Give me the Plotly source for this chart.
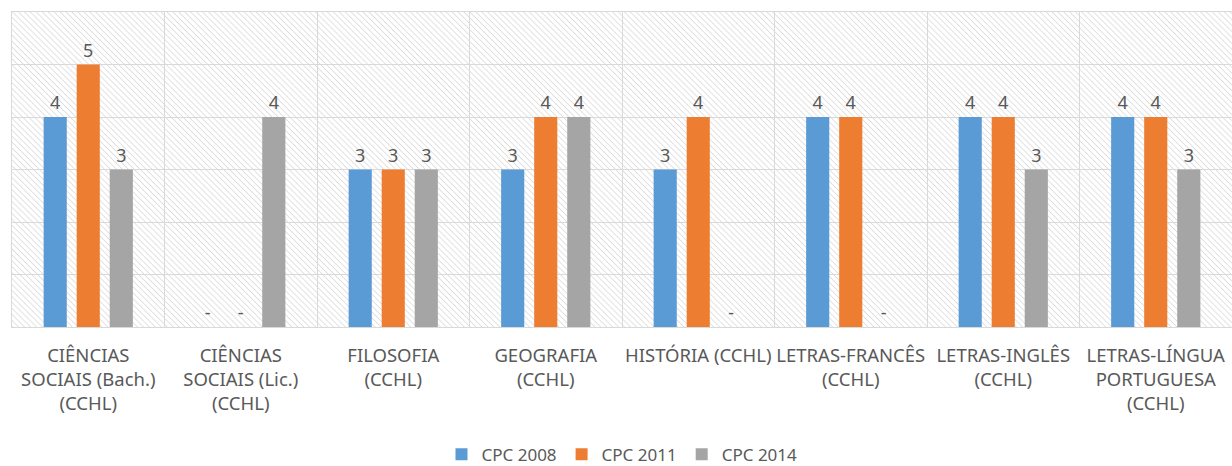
import base64
import plotly.graph_objects as go

categories = [
    "CIÊNCIAS<br>SOCIAIS (Bach.)<br>(CCHL)",
    "CIÊNCIAS<br>SOCIAIS (Lic.)<br>(CCHL)",
    "FILOSOFIA<br>(CCHL)",
    "GEOGRAFIA<br>(CCHL)",
    "HISTÓRIA (CCHL)",
    "LETRAS-FRANCÊS<br>(CCHL)",
    "LETRAS-INGLÊS<br>(CCHL)",
    "LETRAS-LÍNGUA<br>PORTUGUESA<br>(CCHL)",
]
series_names = ["CPC 2008", "CPC 2011", "CPC 2014"]
cpc_2008 = [4, None, 3, 3, 3, 4, 4, 4]
cpc_2011 = [5, None, 3, 4, 4, 4, 4, 4]
cpc_2014 = [3, 4, 3, 4, None, None, 3, 3]
colors = ["#5B9BD5", "#ED7D31", "#A5A5A5"]

W, H = 1232, 466
ML, MR, MT, MB = 12, 0, 12, 139
PW, PH = W - ML - MR, H - MT - MB

svg = f'''<svg xmlns="http://www.w3.org/2000/svg" width="{PW}" height="{PH}" preserveAspectRatio="none">
<defs><pattern id="h" patternUnits="userSpaceOnUse" width="4.2" height="4.2" patternTransform="rotate(-45)">
<rect width="4.2" height="4.2" fill="#ffffff"/><line x1="0" y1="0" x2="0" y2="4.2" stroke="#d6d6d6" stroke-width="1.4"/></pattern></defs>
<rect width="{PW}" height="{PH}" fill="url(#h)"/></svg>'''
src = "data:image/svg+xml;base64," + base64.b64encode(svg.encode()).decode()

fig = go.Figure()
for name, vals, col in zip(series_names, [cpc_2008, cpc_2011, cpc_2014], colors):
    fig.add_trace(go.Bar(
        name=name,
        x=categories,
        y=[v if v is not None else 0 for v in vals],
        text=[str(v) if v is not None else "-" for v in vals],
        textposition="outside",
        textfont=dict(size=18, color="#595959"),
        marker=dict(color=col, line=dict(width=0)),
        cliponaxis=False,
    ))

fig.update_layout(
    width=W, height=H,
    margin=dict(l=ML, r=MR, t=MT, b=MB, autoexpand=False),
    paper_bgcolor="white",
    plot_bgcolor="rgba(0,0,0,0)",
    barmode="group",
    bargap=0.35,
    bargroupgap=0.3,
    font=dict(family="Noto Sans, sans-serif", color="#595959", size=18),
    showlegend=True,
    legend=dict(orientation="h", x=0.5, xanchor="center", y=-0.405, yanchor="middle",
                font=dict(size=17, color="#595959"), traceorder="normal", itemwidth=30),
    images=[dict(source=src, xref="paper", yref="paper", x=0, y=1, sizex=1, sizey=1,
                 sizing="stretch", layer="below", xanchor="left", yanchor="top")],
)
fig.update_xaxes(
    tickson="boundaries", showgrid=True, gridcolor="#d9d9d9", gridwidth=1,
    ticks="", ticklabelstandoff=12,
    tickfont=dict(size=18.5, color="#595959"), showline=True, linecolor="#d9d9d9",
    mirror=True, tickangle=0, automargin=False,
)
fig.update_yaxes(
    range=[0, 6], dtick=1, showgrid=True, gridcolor="#d9d9d9", gridwidth=1,
    showticklabels=False, zeroline=False, showline=True, linecolor="#d9d9d9", mirror=True,
)
fig.write_html("out.html", config={"displayModeBar": False},
               post_script="document.body.style.margin='0';document.body.style.overflow='hidden';")
